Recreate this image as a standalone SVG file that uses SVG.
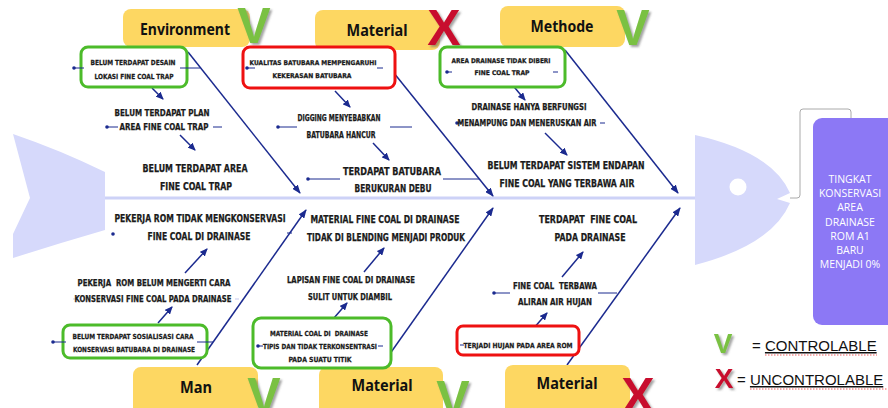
<svg xmlns="http://www.w3.org/2000/svg" width="888" height="408" viewBox="0 0 888 408">
<style>
.cat{fill:#fdd762}
.ct{font-family:"Noto Sans","DejaVu Sans",sans-serif;font-weight:bold;font-size:16px;fill:#111;text-anchor:middle}
.t{font-family:"DejaVu Sans Condensed","DejaVu Sans",sans-serif;font-weight:bold;fill:#1a1a1a;stroke:#1a1a1a;stroke-width:0.25;text-anchor:middle}
.gb{fill:#fff;stroke:#4cbb2a;stroke-width:3}
.rb{fill:#fff;stroke:#ee1111;stroke-width:3}
.bone{stroke:#1b2a8f;stroke-width:1.5;fill:none;marker-end:url(#ah)}
.sa{stroke:#1b2a8f;stroke-width:1.5;fill:none;marker-end:url(#sh)}
.sl{stroke:#1b2a8f;stroke-width:1;fill:none}
.dot{fill:#1b2a8f}
.v{font-family:"Liberation Sans",sans-serif;font-weight:bold;font-size:50px;fill:#7ac143;text-anchor:middle;filter:url(#ds)}
.x{font-family:"Liberation Sans",sans-serif;font-weight:bold;font-size:50px;fill:#c8102e;text-anchor:middle;filter:url(#ds)}
.lg{font-family:"Liberation Sans",sans-serif;font-size:15px;fill:#111}
</style>
<defs>
<marker id="ah" markerUnits="userSpaceOnUse" markerWidth="9" markerHeight="7" refX="8" refY="3.5" orient="auto"><path d="M0,0 L9,3.5 L0,7 z" fill="#1b2a8f"/></marker>
<marker id="sh" markerUnits="userSpaceOnUse" markerWidth="8" markerHeight="7" refX="7" refY="3.5" orient="auto"><path d="M0,0 L8,3.5 L0,7 z" fill="#1b2a8f"/></marker>
<filter id="ds" x="-20%" y="-20%" width="150%" height="150%"><feDropShadow dx="2" dy="2" stdDeviation="1" flood-color="#666" flood-opacity="0.6"/></filter>
</defs>
<rect width="888" height="408" fill="#fff"/>

<g id="fish">
<path d="M13,134 Q60,150 105,172 L105,230 Q60,243 13,258 L13,234 L30,198 Z" fill="#d6d9fb"/>
<line x1="105" y1="198" x2="697" y2="198" stroke="#cdd2f7" stroke-width="3"/>
<path d="M695,135 Q772,152 790,193 L777,199 L790,203 Q772,245 695,265 Z" fill="#d6d9fb"/>
<circle cx="738" cy="187" r="8.5" fill="#fff"/>
<path d="M790,198 L797,198 Q800,198 800,195 L800,112 Q800,109 803,109 L848,109 Q851,109 851,112 L851,118" fill="none" stroke="#aaa" stroke-width="1"/>
</g>

<g id="effect">
<rect x="813" y="118" width="85" height="207" rx="9" fill="#8c78f5"/>
<g font-family="Open Sans, Lato, sans-serif" font-size="10.5" fill="#fff" text-anchor="middle">
<text x="850" y="183">TINGKAT</text>
<text x="850" y="197.2">KONSERVASI</text>
<text x="850" y="211.4">AREA</text>
<text x="850" y="225.6">DRAINASE</text>
<text x="850" y="239.8">ROM A1</text>
<text x="850" y="254">BARU</text>
<text x="850" y="268.2">MENJADI 0%</text>
</g>
</g>

<g id="connectors">
<path class="bone" d="M188,52 L300,193"/>
<path class="bone" d="M377,52 L493,196"/>
<path class="bone" d="M565,50 L678,193"/>
<path class="bone" d="M197,365 L306,210"/>
<path class="bone" d="M382,365 L493,208"/>
<path class="bone" d="M567,365 L680,208"/>
<path class="sa" d="M152,88 L163,99"/>
<path class="sa" d="M180,135 L195,150"/>
<path class="sa" d="M335,91 L350,107"/>
<path class="sa" d="M373,143 L389,160"/>
<path class="sa" d="M510,82 L525,100"/>
<path class="sa" d="M545,133 L567,155"/>
<path class="sa" d="M158,323 L172,307"/>
<path class="sa" d="M185,273 L207,249"/>
<path class="sa" d="M327,326 L347,303"/>
<path class="sa" d="M364,272 L384,248"/>
<path class="sa" d="M526,337 L547,313"/>
<path class="sa" d="M562,277 L583,252"/>
</g>

<g id="cat-environment">
<rect class="cat" x="123" y="9" width="127" height="38" rx="8"/>
<text class="ct" x="185" y="35" textLength="90" lengthAdjust="spacingAndGlyphs">Environment</text>
<text class="v" x="254" y="43">V</text>
</g>
<g id="cat-material-top">
<rect class="cat" x="315" y="10" width="125" height="40" rx="8"/>
<text class="ct" x="377" y="36" textLength="61" lengthAdjust="spacingAndGlyphs">Material</text>
<text class="x" x="444" y="45">X</text>
</g>
<g id="cat-methode">
<rect class="cat" x="500" y="6" width="125" height="41" rx="8"/>
<text class="ct" x="562" y="32" textLength="63" lengthAdjust="spacingAndGlyphs">Methode</text>
<text class="v" x="633" y="45">V</text>
</g>
<g id="cat-man">
<rect class="cat" x="133" y="367" width="125" height="50" rx="8"/>
<text class="ct" x="196" y="393" textLength="32" lengthAdjust="spacingAndGlyphs">Man</text>
<text class="v" x="264" y="413">V</text>
</g>
<g id="cat-material-bottom">
<rect class="cat" x="319" y="367" width="124" height="50" rx="8"/>
<text class="ct" x="382" y="391" textLength="61" lengthAdjust="spacingAndGlyphs">Material</text>
<text class="v" x="453" y="416">V</text>
</g>
<g id="cat-material-right">
<rect class="cat" x="505" y="365" width="125" height="50" rx="8"/>
<text class="ct" x="567" y="389" textLength="61" lengthAdjust="spacingAndGlyphs">Material</text>
<text class="x" x="638" y="413">X</text>
</g>

<g id="env-causes">
<rect class="gb" x="81" y="47" width="106" height="40" rx="7"/>
<line class="sl" x1="74" y1="68" x2="84" y2="68"/><circle class="dot" cx="74" cy="68" r="1.8"/>
<line class="sl" x1="180" y1="68" x2="200" y2="68"/>
<text class="t" font-size="7" x="133" y="64.5" textLength="85" lengthAdjust="spacingAndGlyphs">BELUM TERDAPAT DESAIN</text>
<text class="t" font-size="7" x="134" y="78.5" textLength="79" lengthAdjust="spacingAndGlyphs">LOKASI FINE COAL TRAP</text>
<line class="sl" x1="107" y1="127" x2="118" y2="127"/><circle class="dot" cx="107" cy="127" r="1.8"/>
<line class="sl" x1="213" y1="127" x2="222" y2="127"/>
<text class="t" font-size="9" x="162" y="116.2" textLength="95" lengthAdjust="spacingAndGlyphs">BELUM TERDAPAT PLAN</text>
<text class="t" font-size="9" x="164" y="130.2" textLength="89" lengthAdjust="spacingAndGlyphs">AREA FINE COAL TRAP</text>
<text class="t" font-size="10" x="195" y="171.5" textLength="105" lengthAdjust="spacingAndGlyphs">BELUM TERDAPAT AREA</text>
<text class="t" font-size="10" x="196" y="189.5" textLength="72" lengthAdjust="spacingAndGlyphs">FINE COAL TRAP</text>
</g>

<g id="material-top-causes">
<rect class="rb" x="243" y="47" width="152" height="41" rx="7"/>
<line class="sl" x1="247" y1="68" x2="255" y2="68"/><circle class="dot" cx="247" cy="68" r="1.8"/>
<line class="sl" x1="377" y1="68" x2="383" y2="68"/>
<text class="t" font-size="6.5" x="313" y="65.3" textLength="127" lengthAdjust="spacingAndGlyphs">KUALITAS BATUBARA MEMPENGARUHI</text>
<text class="t" font-size="6.5" x="312" y="78.3" textLength="79" lengthAdjust="spacingAndGlyphs">KEKERASAN BATUBARA</text>
<line class="sl" x1="278" y1="127" x2="297" y2="127"/><circle class="dot" cx="278" cy="127" r="1.8"/>
<line class="sl" x1="390" y1="127" x2="412" y2="127"/>
<text class="t" font-size="8.5" x="339" y="121" textLength="83" lengthAdjust="spacingAndGlyphs">DIGGING MENYEBABKAN</text>
<text class="t" font-size="8.5" x="341" y="138" textLength="69" lengthAdjust="spacingAndGlyphs">BATUBARA HANCUR</text>
<line class="sl" x1="308" y1="179" x2="340" y2="179"/><circle class="dot" cx="308" cy="179" r="1.8"/>
<line class="sl" x1="443" y1="179" x2="479" y2="179"/>
<text class="t" font-size="10" x="392" y="174.5" textLength="98" lengthAdjust="spacingAndGlyphs">TERDAPAT BATUBARA</text>
<text class="t" font-size="10" x="393" y="191.5" textLength="77" lengthAdjust="spacingAndGlyphs">BERUKURAN DEBU</text>
</g>

<g id="methode-causes">
<rect class="gb" x="440" y="47" width="125" height="40" rx="7"/>
<line class="sl" x1="447" y1="72" x2="452" y2="72"/><circle class="dot" cx="447" cy="72" r="1.8"/>
<line class="sl" x1="553" y1="72" x2="558" y2="72"/>
<text class="t" font-size="6.5" x="501" y="63.3" textLength="99" lengthAdjust="spacingAndGlyphs">AREA DRAINASE TIDAK DIBERI</text>
<text class="t" font-size="6.5" x="502" y="75.3" textLength="55" lengthAdjust="spacingAndGlyphs">FINE COAL TRAP</text>
<line class="sl" x1="457" y1="123" x2="462" y2="123"/><circle class="dot" cx="457" cy="123" r="1.8"/>
<line class="sl" x1="600" y1="123" x2="605" y2="123"/>
<text class="t" font-size="8.5" x="529" y="110" textLength="115" lengthAdjust="spacingAndGlyphs">DRAINASE HANYA BERFUNGSI</text>
<text class="t" font-size="8.5" x="527" y="126" textLength="139" lengthAdjust="spacingAndGlyphs">MENAMPUNG DAN MENERUSKAN AIR</text>
<text class="t" font-size="10" x="566" y="168.5" textLength="157" lengthAdjust="spacingAndGlyphs">BELUM TERDAPAT SISTEM ENDAPAN</text>
<text class="t" font-size="10" x="567" y="186.5" textLength="135" lengthAdjust="spacingAndGlyphs">FINE COAL YANG TERBAWA AIR</text>
</g>

<g id="man-causes">
<circle class="dot" cx="113" cy="234" r="1.8"/>
<line class="sl" x1="287" y1="233" x2="292" y2="233"/>
<text class="t" font-size="10" x="200" y="221.5" textLength="171" lengthAdjust="spacingAndGlyphs">PEKERJA ROM TIDAK MENGKONSERVASI</text>
<text class="t" font-size="10" x="199" y="239.5" textLength="103" lengthAdjust="spacingAndGlyphs">FINE COAL DI DRAINASE</text>
<line x1="73" y1="299" x2="76" y2="299" stroke="#c5c9ee" stroke-width="1"/>
<line x1="235" y1="299" x2="239" y2="299" stroke="#c5c9ee" stroke-width="1"/>
<text class="t" font-size="8.5" x="154" y="286" textLength="153" lengthAdjust="spacingAndGlyphs" xml:space="preserve">PEKERJA  ROM BELUM MENGERTI CARA</text>
<text class="t" font-size="8.5" x="153" y="302" textLength="157" lengthAdjust="spacingAndGlyphs">KONSERVASI FINE COAL PADA DRAINASE</text>
<rect class="gb" x="63" y="325" width="144" height="33" rx="7"/>
<line class="sl" x1="53" y1="342" x2="66" y2="342"/><circle class="dot" cx="53" cy="342" r="1.8"/>
<line class="sl" x1="197" y1="342" x2="213" y2="342"/>
<text class="t" font-size="7" x="133" y="338.5" textLength="121" lengthAdjust="spacingAndGlyphs">BELUM TERDAPAT SOSIALISASI CARA</text>
<text class="t" font-size="7" x="134" y="351.5" textLength="122" lengthAdjust="spacingAndGlyphs">KONSERVASI BATUBARA DI DRAINASE</text>
</g>

<g id="material-bottom-causes">
<text class="t" font-size="10" x="385" y="222.5" textLength="149" lengthAdjust="spacingAndGlyphs">MATERIAL FINE COAL DI DRAINASE</text>
<text class="t" font-size="10" x="386" y="240.5" textLength="158" lengthAdjust="spacingAndGlyphs">TIDAK DI BLENDING MENJADI PRODUK</text>
<text class="t" font-size="8.5" x="351" y="283" textLength="128" lengthAdjust="spacingAndGlyphs">LAPISAN FINE COAL DI DRAINASE</text>
<text class="t" font-size="8.5" x="350" y="300" textLength="84" lengthAdjust="spacingAndGlyphs">SULIT UNTUK DIAMBIL</text>
<rect class="gb" x="253" y="318" width="138" height="50" rx="8"/>
<line class="sl" x1="258" y1="346" x2="263" y2="346"/><circle class="dot" cx="258" cy="346" r="1.8"/>
<line class="sl" x1="378" y1="346" x2="383" y2="346"/>
<text class="t" font-size="7" x="319" y="335.5" textLength="98" lengthAdjust="spacingAndGlyphs" xml:space="preserve">MATERIAL COAL DI  DRAINASE</text>
<text class="t" font-size="7" x="320" y="348.5" textLength="114" lengthAdjust="spacingAndGlyphs">TIPIS DAN TIDAK TERKONSENTRASI</text>
<text class="t" font-size="7" x="320" y="361.5" textLength="63" lengthAdjust="spacingAndGlyphs">PADA SUATU TITIK</text>
</g>

<g id="material-right-causes">
<text class="t" font-size="10" x="588" y="222.5" textLength="98" lengthAdjust="spacingAndGlyphs" xml:space="preserve">TERDAPAT  FINE COAL</text>
<text class="t" font-size="10" x="590" y="240.5" textLength="71" lengthAdjust="spacingAndGlyphs">PADA DRAINASE</text>
<line class="sl" x1="494" y1="293" x2="510" y2="293"/><circle class="dot" cx="494" cy="293" r="1.8"/>
<line class="sl" x1="598" y1="293" x2="617" y2="293"/>
<text class="t" font-size="9" x="555" y="289.2" textLength="84" lengthAdjust="spacingAndGlyphs" xml:space="preserve">FINE COAL  TERBAWA</text>
<text class="t" font-size="9" x="555" y="305.2" textLength="74" lengthAdjust="spacingAndGlyphs">ALIRAN AIR HUJAN</text>
<rect class="rb" x="457" y="326" width="122" height="29" rx="6"/>
<line class="sl" x1="460" y1="345" x2="464" y2="345"/>
<text class="t" font-size="7" x="518" y="347.5" textLength="109" lengthAdjust="spacingAndGlyphs">TERJADI HUJAN PADA AREA ROM</text>
</g>

<g id="legend">
<text x="723" y="353" font-family="Liberation Sans, sans-serif" font-weight="bold" font-size="28" fill="#7ac143" text-anchor="middle" filter="url(#ds)">V</text>
<text class="lg" x="752" y="351">= <tspan text-decoration="underline">CONTROLABLE</tspan></text>
<path d="M765,355 L877,355" stroke="#e33" stroke-width="0.8" stroke-dasharray="1.5,1.5"/>
<text x="724" y="388" font-family="Liberation Sans, sans-serif" font-weight="bold" font-size="28" fill="#c8102e" text-anchor="middle" filter="url(#ds)">X</text>
<text class="lg" x="737" y="385">= <tspan text-decoration="underline">UNCONTROLABLE</tspan></text>
<path d="M750,389 L887,389" stroke="#e33" stroke-width="0.8" stroke-dasharray="1.5,1.5"/>
</g>
</svg>
